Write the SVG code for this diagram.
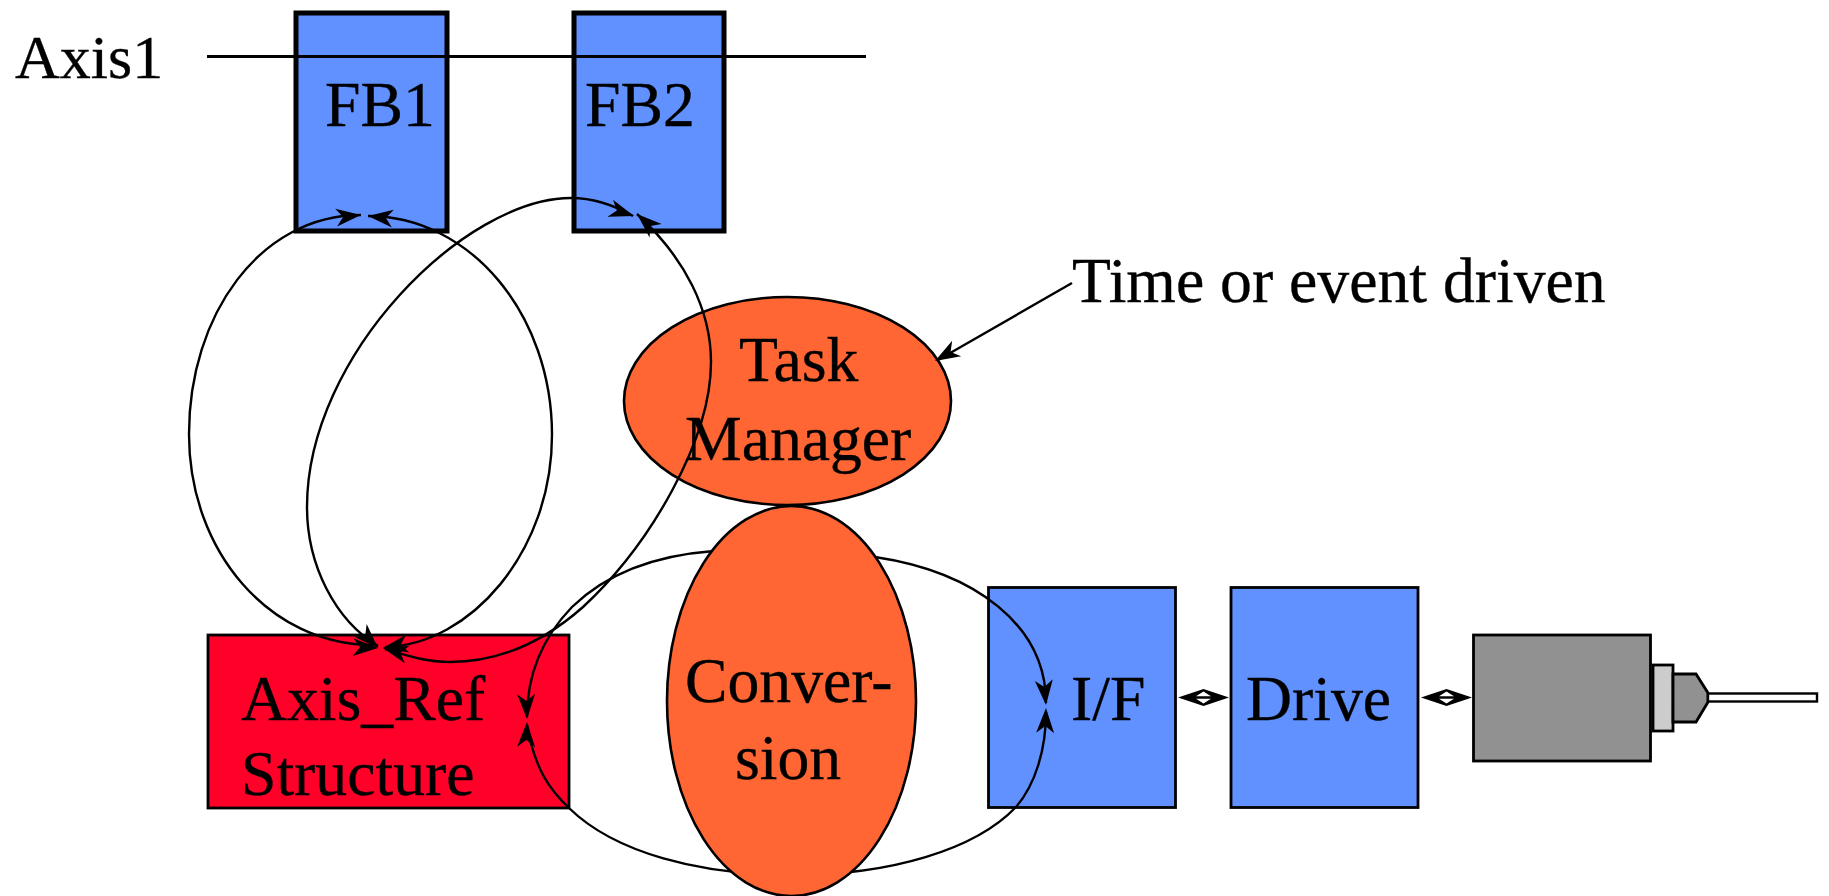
<svg xmlns="http://www.w3.org/2000/svg" width="1829" height="896" viewBox="0 0 1829 896">
<style>
text{font-family:"Liberation Serif","Times New Roman",serif;font-size:63.7px;fill:#000;stroke:#000;stroke-width:.35}
.blue{fill:#6190ff;stroke:#000;stroke-width:2.8}
.fb{fill:#6190ff;stroke:#000;stroke-width:5}
.or{fill:#ff6633;stroke:#000;stroke-width:2.6}
.c{fill:none;stroke:#000;stroke-width:2.4}
.h{fill:#000;stroke:none}
.g{fill:#919191;stroke:#000;stroke-width:2.8}
</style>
<defs>
<path id="ah" d="M0 0L-25 -9L-18 0L-25 9Z"/>
<g id="dbl">
<path d="M0 0L25.500 -8.500L51 0L25.500 8.500Z" fill="#000"/>
<path d="M25.500 -6L33 -1.200H18ZM25.500 6L33 1.200H18Z" fill="#fff"/>
</g>
</defs>
<rect width="1829" height="896" fill="#fff"/>
<g id="fb1"><rect class="fb" x="296" y="13" width="151" height="218"/><text x="325" y="126">FB1</text></g>
<g id="fb2"><rect class="fb" x="574" y="13" width="150" height="218"/><text x="585" y="126">FB2</text></g>
<g id="axis-ref"><rect x="208" y="635" width="361" height="173" fill="#ff0029" stroke="#000" stroke-width="2.8"/><text x="241" y="720">Axis_Ref</text><text x="241" y="795">Structure</text></g>
<g id="task-manager"><ellipse class="or" cx="787.500" cy="401" rx="163.500" ry="104"/><text x="739" y="381">Task</text><text x="685" y="460">Manager</text></g>
<g id="if"><rect class="blue" x="988.500" y="587.500" width="187" height="220"/><text x="1071" y="720">I/F</text></g>
<g id="drive"><rect class="blue" x="1231" y="587.500" width="187" height="220"/><text x="1246" y="720">Drive</text></g>
<g id="axis1"><text x="15" y="78" style="font-size:62px">Axis1</text></g>
<g id="event"><text x="1072" y="302">Time or event driven</text></g>
<g id="motor">
<rect class="g" x="1473.500" y="635" width="177" height="126"/>
<rect x="1653" y="665" width="20" height="66" fill="#ccc" stroke="#000" stroke-width="2.8"/>
<path class="g" d="M1673 674H1696L1708 693V702L1696 722H1673Z"/>
<rect x="1708" y="693.500" width="109" height="8" fill="#fff" stroke="#000" stroke-width="2.4"/>
</g>
<g id="connectors">
<path class="c" style="stroke-width:3" d="M207 56.500H866"/>
<path class="c" d="M361 215C260 215 189 315 189 434C189 552 270 645 373 645"/>
<path class="c" d="M368 216C470 216 552 314 552 435C552 552 470 645 385 647"/>
<path class="c" d="M633 216C612 204 592 198 571 198C465 198 307 355 307 507C307 565 335 620 378 646"/>
<path class="c" d="M637 214C685 258 711 310 711 362C711 440 650 545 583 607C540 645 495 662 450 662C425 662 405 655 385 649"/>
<path class="c" d="M527 717C527 670 545 635 572 607C610 570 660 555 714 551C770 545 820 548 875 557C975 572 1046 625 1046 703"/>
<path class="c" d="M527 725C535 770 550 790 569 808C615 853 700 875 793 875C890 875 975 850 1016 807C1035 785 1046 750 1046 712"/>
<path class="c" d="M1072 283L938 360"/>
<use class="h" href="#ah" transform="translate(361 215) rotate(-6)"/>
<use class="h" href="#ah" transform="translate(368 216) rotate(186)"/>
<use class="h" href="#ah" transform="translate(634 216) rotate(18)"/>
<use class="h" href="#ah" transform="translate(637 214) rotate(222)"/>
<use class="h" href="#ah" transform="translate(378 648) rotate(2)"/>
<use class="h" href="#ah" transform="translate(378 648) rotate(45)"/>
<use class="h" href="#ah" transform="translate(383 648) rotate(170)"/>
<use class="h" href="#ah" transform="translate(383 648) rotate(195)"/>
<use class="h" href="#ah" transform="translate(527 719) rotate(88)"/>
<use class="h" href="#ah" transform="translate(527 722) rotate(-88)"/>
<use class="h" href="#ah" transform="translate(1046 705) rotate(85)"/>
<use class="h" href="#ah" transform="translate(1046 708) rotate(-88)"/>
<use class="h" href="#ah" transform="translate(935 361) rotate(150)"/>
<use href="#dbl" transform="translate(1178 697.500)"/>
<use href="#dbl" transform="translate(1421 697.500)"/>
</g>
<g id="conversion"><ellipse class="or" cx="791.500" cy="701" rx="124.500" ry="195"/><text x="685" y="702">Conver-</text><text x="735" y="779">sion</text></g>
</svg>
